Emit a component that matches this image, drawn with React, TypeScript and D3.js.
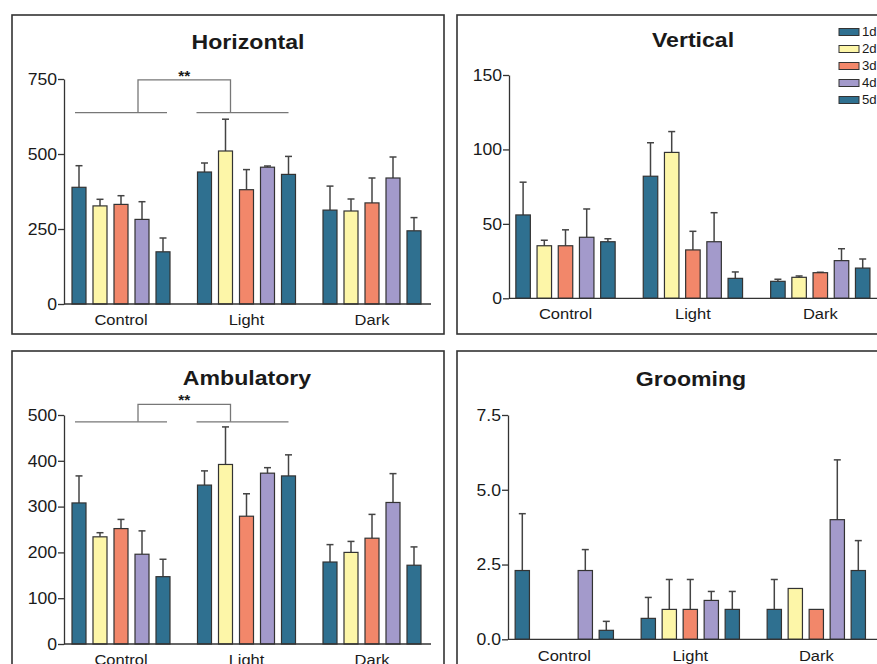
import React, { useEffect, useRef } from 'react';
import * as d3 from 'd3';

// categories and series
const categories = ['Control', 'Light', 'Dark'];
const days = ['1d', '2d', '3d', '4d', '5d'];
const dayColors = ['#2f7090', '#fdf6a8', '#f2876a', '#a39acb', '#2f7090'];

// Horizontal activity: mean and error (per category, per day)
const horizontalMean = [[389, 327, 332, 282, 174], [440, 510, 381, 456, 432], [313, 310, 337, 420, 244]];
const horizontalErr = [[72, 22, 29, 59, 46], [30, 106, 67, 4, 60], [80, 40, 83, 70, 44]];
const horizontalTicks = [0, 250, 500, 750];

// Vertical activity
const verticalMean = [[56, 35.3, 35.3, 41, 38], [82, 98, 32.5, 38, 13.4], [11.4, 14.1, 17.2, 25.3, 20.3]];
const verticalErr = [[22, 3.7, 10.7, 19, 2], [22.5, 14, 12.5, 19.5, 4.3], [1.4, 0.9, 0.3, 8, 6.1]];
const verticalTicks = [0, 50, 100, 150];

// Ambulatory activity
const ambulatoryMean = [[308, 234, 252, 196, 147], [347, 392, 279, 373, 367], [179, 200, 231, 309, 172]];
const ambulatoryErr = [[59, 9, 20, 51, 38], [31, 82, 49, 12, 46], [38, 24, 52, 63, 40]];
const ambulatoryTicks = [0, 100, 200, 300, 400, 500];

// Grooming
const groomingMean = [[2.3, 0, 0, 2.3, 0.3], [0.7, 1, 1, 1.3, 1], [1, 1.7, 1, 4, 2.3]];
const groomingErr = [[1.9, 0, 0, 0.7, 0.3], [0.7, 1, 1, 0.3, 0.6], [1, 0, 0, 2, 1]];
const groomingTicks = [0, 2.5, 5, 7.5];

// significance bracket (low / high y value), Control vs Light
const horizontalBracket = [638, 747];
const ambulatoryBracket = [485, 523];

const FONT = '"Liberation Sans", Arial, sans-serif';
const STRETCH = 1.1;

type Panel = {
  title: string;
  mean: number[][];
  err: number[][];
  ticks: number[];
  fmt: (v: number) => string;
  bracket?: number[];
  frame: [number, number, number, number];
  axisX: number;
  yRange: [number, number];
  center0: number;
  step: number;
  barW: number;
  barStep: number;
  xEnd: number;
  titleX: number;
  titleY: number;
  catY: number;
};

const panels: Panel[] = [
  {
    title: 'Horizontal', mean: horizontalMean, err: horizontalErr, ticks: horizontalTicks,
    fmt: d3.format('d'), bracket: horizontalBracket,
    frame: [12, 15, 444, 334], axisX: 64, yRange: [304, 79],
    center0: 121, step: 125.5, barW: 14, barStep: 21, xEnd: 431,
    titleX: 248, titleY: 49, catY: 325,
  },
  {
    title: 'Vertical', mean: verticalMean, err: verticalErr, ticks: verticalTicks,
    fmt: d3.format('d'),
    frame: [457, 15, 900, 334], axisX: 509, yRange: [298.3, 75],
    center0: 565.5, step: 127.4, barW: 14.5, barStep: 21.2, xEnd: 900,
    titleX: 693, titleY: 47, catY: 319,
  },
  {
    title: 'Ambulatory', mean: ambulatoryMean, err: ambulatoryErr, ticks: ambulatoryTicks,
    fmt: d3.format('d'), bracket: ambulatoryBracket,
    frame: [12, 351, 444, 720], axisX: 64, yRange: [644, 415],
    center0: 121, step: 125.5, barW: 14, barStep: 21, xEnd: 431,
    titleX: 247, titleY: 385, catY: 665,
  },
  {
    title: 'Grooming', mean: groomingMean, err: groomingErr, ticks: groomingTicks,
    fmt: d3.format('.1f'),
    frame: [457, 351, 900, 720], axisX: 508, yRange: [639.3, 415],
    center0: 564.3, step: 126, barW: 14.3, barStep: 21, xEnd: 900,
    titleX: 691, titleY: 386, catY: 661,
  },
];

function addText(g: any, x: number, y: number, s: string, size: number, anchor: string, weight = 'normal', dy = '0') {
  return g.append('text')
    .attr('transform', `translate(${x},${y}) scale(${STRETCH},1)`)
    .attr('text-anchor', anchor)
    .attr('dy', dy)
    .style('font-family', FONT)
    .style('font-size', `${size}px`)
    .style('font-weight', weight)
    .attr('fill', '#1a1a1a')
    .text(s);
}

const App = () => {
  const ref = useRef<SVGSVGElement | null>(null);

  useEffect(() => {
    if (!ref.current) return;
    const svg = d3.select(ref.current);
    svg.selectAll('*').remove();

    panels.forEach(p => {
      const g = svg.append('g');
      const [fx0, fy0, fx1, fy1] = p.frame;

      // frame
      g.append('rect')
        .attr('x', fx0).attr('y', fy0)
        .attr('width', fx1 - fx0).attr('height', fy1 - fy0)
        .attr('fill', '#fff').attr('stroke', '#333').attr('stroke-width', 1.6);

      const y = d3.scaleLinear()
        .domain([0, p.ticks[p.ticks.length - 1]])
        .range(p.yRange);

      const x0 = d3.scaleBand()
        .domain(categories)
        .range([p.center0 - p.step / 2, p.center0 + p.step * 2.5])
        .padding(0);

      const innerW = p.barStep * (days.length - 1) + p.barW;
      const x1 = d3.scaleBand()
        .domain(days)
        .range([0, innerW])
        .paddingInner((p.barStep - p.barW) / p.barStep)
        .paddingOuter(0);
      const off = (x0.bandwidth() - innerW) / 2;

      // title
      addText(g, p.titleX, p.titleY, p.title, 21, 'middle', 'bold');

      // y axis
      const yAxis = g.append('g')
        .attr('transform', `translate(${p.axisX},0)`)
        .call(d3.axisLeft(y).tickValues(p.ticks).tickSize(6).tickSizeOuter(0).tickFormat(() => ''));
      yAxis.select('.domain').attr('stroke', '#333').attr('stroke-width', 1.3);
      yAxis.selectAll('.tick line').attr('stroke', '#333').attr('stroke-width', 1.3);

      p.ticks.forEach(t => {
        addText(g, p.axisX - 7, y(t), p.fmt(t), 16, 'end', 'normal', '0.36em');
      });

      // bars
      categories.forEach((c, ci) => {
        const gx = (x0(c) as number) + off;
        days.forEach((d, di) => {
          const v = p.mean[ci][di];
          if (!v) return;
          const bx = gx + (x1(d) as number);
          const e = p.err[ci][di];
          const cx = bx + x1.bandwidth() / 2;
          if (e > 0) {
            g.append('line')
              .attr('x1', cx).attr('x2', cx)
              .attr('y1', y(v)).attr('y2', y(v + e))
              .attr('stroke', '#444').attr('stroke-width', 1.5);
            g.append('line')
              .attr('x1', cx - 3.5).attr('x2', cx + 3.5)
              .attr('y1', y(v + e)).attr('y2', y(v + e))
              .attr('stroke', '#444').attr('stroke-width', 1.5);
          }
          g.append('rect')
            .attr('x', bx).attr('y', y(v))
            .attr('width', x1.bandwidth()).attr('height', y(0) - y(v))
            .attr('fill', dayColors[di])
            .attr('stroke', '#333').attr('stroke-width', 1.2);
        });
        addText(g, x0(c)! + x0.bandwidth() / 2, p.catY, c, 15, 'middle');
      });

      // x axis line
      g.append('line')
        .attr('x1', p.axisX).attr('x2', p.xEnd)
        .attr('y1', y(0)).attr('y2', y(0))
        .attr('stroke', '#333').attr('stroke-width', 1.3);

      // significance bracket
      if (p.bracket) {
        const [lo, hi] = p.bracket;
        const cC = x0('Control')! + x0.bandwidth() / 2;
        const cL = x0('Light')! + x0.bandwidth() / 2;
        const bg = g.append('g').attr('stroke', '#777').attr('stroke-width', 1.3).attr('fill', 'none');
        bg.append('line').attr('x1', cC - 46).attr('x2', cC + 46).attr('y1', y(lo)).attr('y2', y(lo));
        bg.append('line').attr('x1', cL - 50).attr('x2', cL + 42).attr('y1', y(lo)).attr('y2', y(lo));
        const vx1 = cC + 17;
        const vx2 = cL - 16;
        bg.append('path')
          .attr('d', `M${vx1},${y(lo)}V${y(hi)}H${vx2}V${y(lo)}`);
        addText(g, (vx1 + vx2) / 2, y(hi) + 1, '**', 14, 'middle', 'bold');
      }
    });

    // legend
    const lg = svg.append('g');
    days.forEach((d, i) => {
      const yy = 32 + i * 17;
      lg.append('rect')
        .attr('x', 839).attr('y', yy - 3.5)
        .attr('width', 20).attr('height', 7)
        .attr('fill', dayColors[i]).attr('stroke', '#333').attr('stroke-width', 1);
      addText(lg, 862, yy, d, 12, 'start', 'normal', '0.36em');
    });
  }, []);

  return (
    <svg
      ref={ref}
      width={877}
      height={664}
      style={{ position: 'absolute', left: 0, top: 0, background: '#fff' }}
    />
  );
};

export default App;
